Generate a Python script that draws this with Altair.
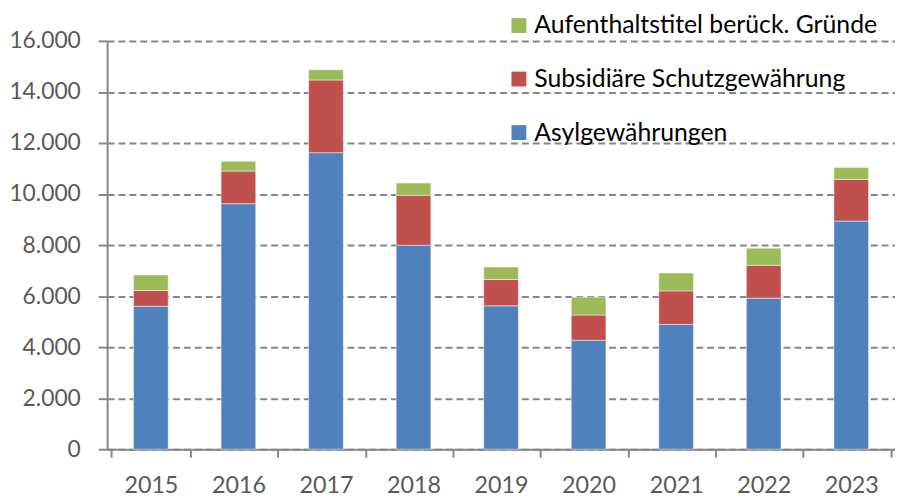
import altair as alt
import pandas as pd

years = ["2015", "2016", "2017", "2018", "2019", "2020", "2021", "2022", "2023"]
asyl = [5600, 9620, 11620, 7990, 5620, 4270, 4890, 5920, 8940]
subsidiaer = [620, 1280, 2850, 1960, 1030, 990, 1315, 1290, 1630]
aufenthalt = [610, 380, 400, 480, 490, 700, 700, 670, 465]

series = ["Aufenthaltstitel berück. Gründe", "Subsidiäre Schutzgewährung", "Asylgewährungen"]
colors = ["#9BBB59", "#C0504D", "#4F81BD"]

rows = []
for i, y in enumerate(years):
    rows.append({"Jahr": y, "Art": series[2], "Wert": asyl[i], "ord": 0})
    rows.append({"Jahr": y, "Art": series[1], "Wert": subsidiaer[i], "ord": 1})
    rows.append({"Jahr": y, "Art": series[0], "Wert": aufenthalt[i], "ord": 2})
df = pd.DataFrame(rows)

FONT = "Lato"

chart = alt.Chart(df).mark_bar(size=35, stroke="white", strokeWidth=0.8, strokeOpacity=0.6).encode(
    x=alt.X("Jahr:N", sort=years, title=None,
            axis=alt.Axis(labelAngle=0, tickBand="extent", tickSize=8, tickWidth=2,
                          tickColor="#868686", domainColor="#868686", domainWidth=2,
                          labelFontSize=23.5, labelColor="#595959", labelFont=FONT,
                          labelPadding=17)),
    y=alt.Y("Wert:Q", stack="zero", title=None,
            scale=alt.Scale(domain=[0, 16000]),
            axis=alt.Axis(values=list(range(0, 16001, 2000)),
                          labelExpr="replace(format(datum.value, ',d'), ',', '.')",
                          grid=True, gridColor="#868686", gridWidth=2, gridDash=[7, 4],
                          tickSize=9, tickWidth=2, tickColor="#868686",
                          domainColor="#868686", domainWidth=2,
                          labelFontSize=23, labelColor="#595959", labelFont=FONT,
                          labelPadding=18)),
    color=alt.Color("Art:N", scale=alt.Scale(domain=series, range=colors),
                    legend=alt.Legend(title=None, orient="none", legendX=403, legendY=-28,
                                      symbolType="square", symbolSize=225,
                                      symbolStrokeWidth=0, labelFontSize=25,
                                      labelFont=FONT, labelColor="#000000",
                                      rowPadding=28, labelOffset=3, padding=0,
                                      labelLimit=500)),
    order=alt.Order("ord:Q", sort="ascending"),
).properties(
    width=795, height=412,
    autosize=alt.AutoSizeParams(type="none"),
    padding={"left": 100, "top": 31, "right": 0, "bottom": 46},
).configure_view(stroke=None).configure_axisX(grid=False)

chart.save("out.html", embed_options={"renderer": "svg", "actions": False})
